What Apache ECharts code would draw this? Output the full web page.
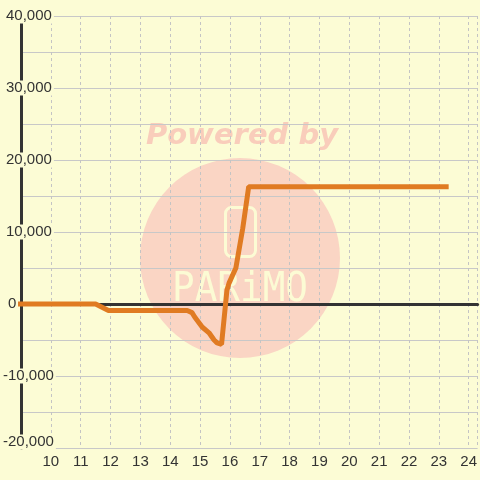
<!DOCTYPE html>
<html>
<head>
<meta charset="utf-8">
<script src="https://cdn.jsdelivr.net/npm/echarts@6/dist/echarts.min.js"></script>
<style>
html,body{margin:0;padding:0;background:#fcfcd5;}
#c{width:480px;height:480px;}
</style>
</head>
<body>
<div id="c"></div>
<script>
// Data
var xValues = [8.9, 11.5, 11.93, 14.57, 14.73, 14.82, 15.07, 15.3, 15.47, 15.57, 15.72, 15.9, 15.97, 16.2, 16.43, 16.63, 23.33];
var yValues = [0, 0, -900, -900, -1200, -1800, -3200, -4000, -5000, -5400, -5600, 1900, 2900, 5000, 10500, 16300, 16300];
var xMin = 9, xMax = 24.3, xInterval = 1;
var yMin = -20000, yMax = 40000, yGridInterval = 5000, yLabelInterval = 10000;
var watermarkTop = 'Powered by';
var watermarkBrand = 'PARiMO';

var BG = '#fcfcd5';
var seriesData = xValues.map(function (x, i) { return [x, yValues[i]]; });

var chart = echarts.init(document.getElementById('c'), null, {renderer: 'canvas'});
var font = 'Liberation Sans, Arial, sans-serif';
var tok = {fontSize: 15, fontFamily: font, color: '#333', lineHeight: 17, backgroundColor: BG};

function yLabel(v) {
  var s = echarts.format.addCommas(v);
  if (v === yMin) return '{n|' + s + '}\n{sp| }';
  if (v < 0) return '{n|' + s + '}';
  if (v === 0) return '{z|' + s + '}';
  return '{p|' + s + '}';
}

chart.setOption({
  backgroundColor: BG,
  animation: false,
  grid: {left: 21, right: 0, top: 16, bottom: 32, containLabel: false},
  xAxis: [
    {
      type: 'value', min: xMin, max: xMax, interval: xInterval, position: 'bottom',
      axisLine: {show: false, onZero: false},
      axisTick: {show: false},
      axisLabel: {color: '#333', fontSize: 15, fontFamily: font, margin: 6, showMinLabel: false, showMaxLabel: false},
      splitLine: {show: true, lineStyle: {color: '#c4c4c4', type: [3, 3], width: 1}}
    },
    {
      type: 'value', min: xMin, max: xMax, interval: xInterval,
      axisLine: {show: true, onZero: true, lineStyle: {color: '#333', width: 3}},
      axisTick: {show: false},
      axisLabel: {show: false},
      splitLine: {show: false}
    }
  ],
  yAxis: [
    {
      type: 'value', min: yMin, max: yMax, interval: yGridInterval, position: 'left',
      axisLine: {show: false, onZero: false},
      axisTick: {show: false},
      axisLabel: {show: false},
      splitLine: {show: true, lineStyle: {color: '#c8c8c8', width: 1}}
    },
    {
      type: 'value', min: yMin, max: yMax, interval: yLabelInterval, position: 'left', z: 1,
      axisLine: {show: true, onZero: false, lineStyle: {color: '#333', width: 3}},
      axisTick: {show: false},
      splitLine: {show: false},
      axisLabel: {
        color: '#333', fontSize: 15, fontFamily: font, align: 'left', margin: 18,
        formatter: yLabel,
        rich: {
          n: Object.assign({}, tok, {padding: [0, 2, 0, 0]}),
          p: Object.assign({}, tok, {padding: [0, 2, 0, 3]}),
          z: Object.assign({}, tok, {padding: [0, 2, 0, 5]}),
          sp: {fontSize: 10, lineHeight: 12}
        }
      }
    }
  ],
  graphic: {
    elements: [
      {type: 'circle', z: -1, shape: {cx: 240, cy: 258, r: 100}, style: {fill: '#fad5c4'}},
      {type: 'text', z: -1, x: 242, y: 151, style: {text: watermarkTop, fill: '#f9cdbb', font: 'italic bold 29px "DejaVu Sans"', align: 'center', verticalAlign: 'bottom'}},
      {type: 'rect', z: -1, shape: {x: 225.5, y: 207.5, width: 30, height: 49, r: 6}, style: {fill: null, stroke: '#fcfbd4', lineWidth: 3}},
      {type: 'text', z: -1, x: 240, y: 291, scaleX: 0.94, style: {text: watermarkBrand, fill: '#fcfbd4', font: '40px "DejaVu Sans Mono"', align: 'center', verticalAlign: 'middle'}}
    ]
  },
  series: [
    {
      type: 'line', xAxisIndex: 0, yAxisIndex: 0, data: seriesData, symbol: 'none', clip: false,
      lineStyle: {color: '#e07b22', width: 5}, z: 2
    }
  ]
});
</script>
</body>
</html>
